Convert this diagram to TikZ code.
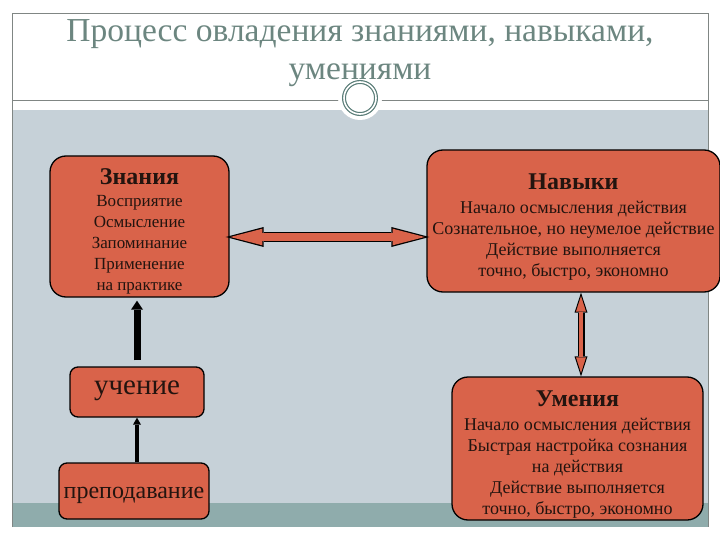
\documentclass[tikz,border=0pt]{standalone}
\usepackage{fontspec}
\setmainfont{Liberation Serif}
\usetikzlibrary{arrows.meta}
\definecolor{coral}{RGB}{217,99,74}
\definecolor{slateback}{RGB}{198,209,216}
\definecolor{tealband}{RGB}{143,172,172}
\definecolor{framegray}{RGB}{128,134,132}
\definecolor{titlegray}{RGB}{108,134,128}
\definecolor{ringteal}{RGB}{90,125,120}
\definecolor{inkbrown}{RGB}{35,20,15}
\begin{document}
\begin{tikzpicture}[x=1pt,y=-1pt,
  every node/.style={font=\fontsize{18}{21}\selectfont,text=inkbrown,align=center,inner sep=0pt},
  bigbox/.style={draw=black,line width=1.3pt,fill=coral,rounded corners=16pt},
  smallbox/.style={draw=black,line width=1.3pt,fill=coral,rounded corners=8pt},
  outerarrow/.style={line width=10pt,black,shorten <=-4pt,shorten >=-3pt,arrows={Triangle[length=38pt,width=20pt,line width=0pt]-Triangle[length=38pt,width=20pt,line width=0pt]}},
  innerarrow/.style={line width=7.4pt,coral,shorten <=0.7pt,shorten >=1.7pt,arrows={Triangle[length=32pt,width=16.6pt,line width=0pt]-Triangle[length=32pt,width=16.6pt,line width=0pt]}},
  outerlink/.style={line width=7pt,black,arrows={Triangle[length=20pt,width=13pt,line width=0pt]-Triangle[length=20pt,width=13pt,line width=0pt]}},
  innerlink/.style={line width=4.8pt,coral,shorten <=3.4pt,shorten >=3.4pt,arrows={Triangle[length=15.6pt,width=10pt,line width=0pt]-Triangle[length=15.6pt,width=10pt,line width=0pt]}}]
\useasboundingbox (0,0) rectangle (720,540);
% slide frame
\fill[slateback] (12,110) rectangle (708,503);
\fill[tealband] (12,503) rectangle (708,527);
\draw[framegray,line width=0.8pt] (12,527) -- (12,13) -- (708,13) -- (708,527);
\draw[framegray,line width=0.8pt] (12,100) -- (708,100);
\fill[white] (360,98) circle (22);
\draw[ringteal,line width=1.2pt,double=white,double distance=1.6pt] (360,98) circle (16);
\node[font=\fontsize{33.5}{38}\selectfont,text=titlegray] (title) at (360,53) {Процесс овладения знаниями, навыками,\\умениями};
% boxes
\node[bigbox,minimum width=179pt,minimum height=141pt,font=\fontsize{17}{21}\selectfont] (zn) at (139.5,226.5) {{\fontsize{24}{21}\selectfont\bfseries\rule{0pt}{26pt}Знания}\\[1pt]Восприятие\\Осмысление\\Запоминание\\Применение\\на практике};
\node[bigbox,minimum width=293pt,minimum height=142pt] (nav) at (573.5,221) {{\fontsize{24}{21}\selectfont\bfseries\rule{0pt}{28pt}Навыки}\\[3pt]Начало осмысления действия\\Сознательное, но неумелое действие\\Действие выполняется\\точно, быстро, экономно};
\node[bigbox,minimum width=251pt,minimum height=143pt] (um) at (577.5,448.5) {{\fontsize{24}{21}\selectfont\bfseries\rule{0pt}{28pt}Умения}\\[3pt]Начало осмысления действия\\Быстрая настройка сознания\\на действия\\Действие выполняется\\точно, быстро, экономно};
\node[smallbox,minimum width=134pt,minimum height=50pt,font=\fontsize{29}{32}\selectfont,text height=16pt,text depth=11pt] (uch) at (137,392) {учение};
\node[smallbox,minimum width=150pt,minimum height=56pt,font=\fontsize{24}{28}\selectfont,text height=20pt,text depth=5pt] (pre) at (134,491) {преподавание};
% links
\draw[outerarrow] (zn.east) ++(0,10.5) coordinate (zr) (zr) -- (zr -| nav.west);
\draw[innerarrow] (zr) -- (zr -| nav.west);
\draw[outerlink] ([xshift=7.5pt]nav.south) -- ([xshift=7.5pt]nav.south |- um.north);
\draw[innerlink] ([xshift=7.5pt]nav.south) -- ([xshift=7.5pt]nav.south |- um.north);
\draw[line width=7pt,arrows={-Triangle[length=9pt,width=12pt,line width=0pt]},shorten <=6pt,shorten >=3pt] (uch.north) -- (uch.north |- zn.south);
\draw[line width=3.5pt,arrows={-Triangle[length=7pt,width=8pt,line width=0pt]}] (pre.north -| uch.north) -- (uch.south);
\end{tikzpicture}
\end{document}
